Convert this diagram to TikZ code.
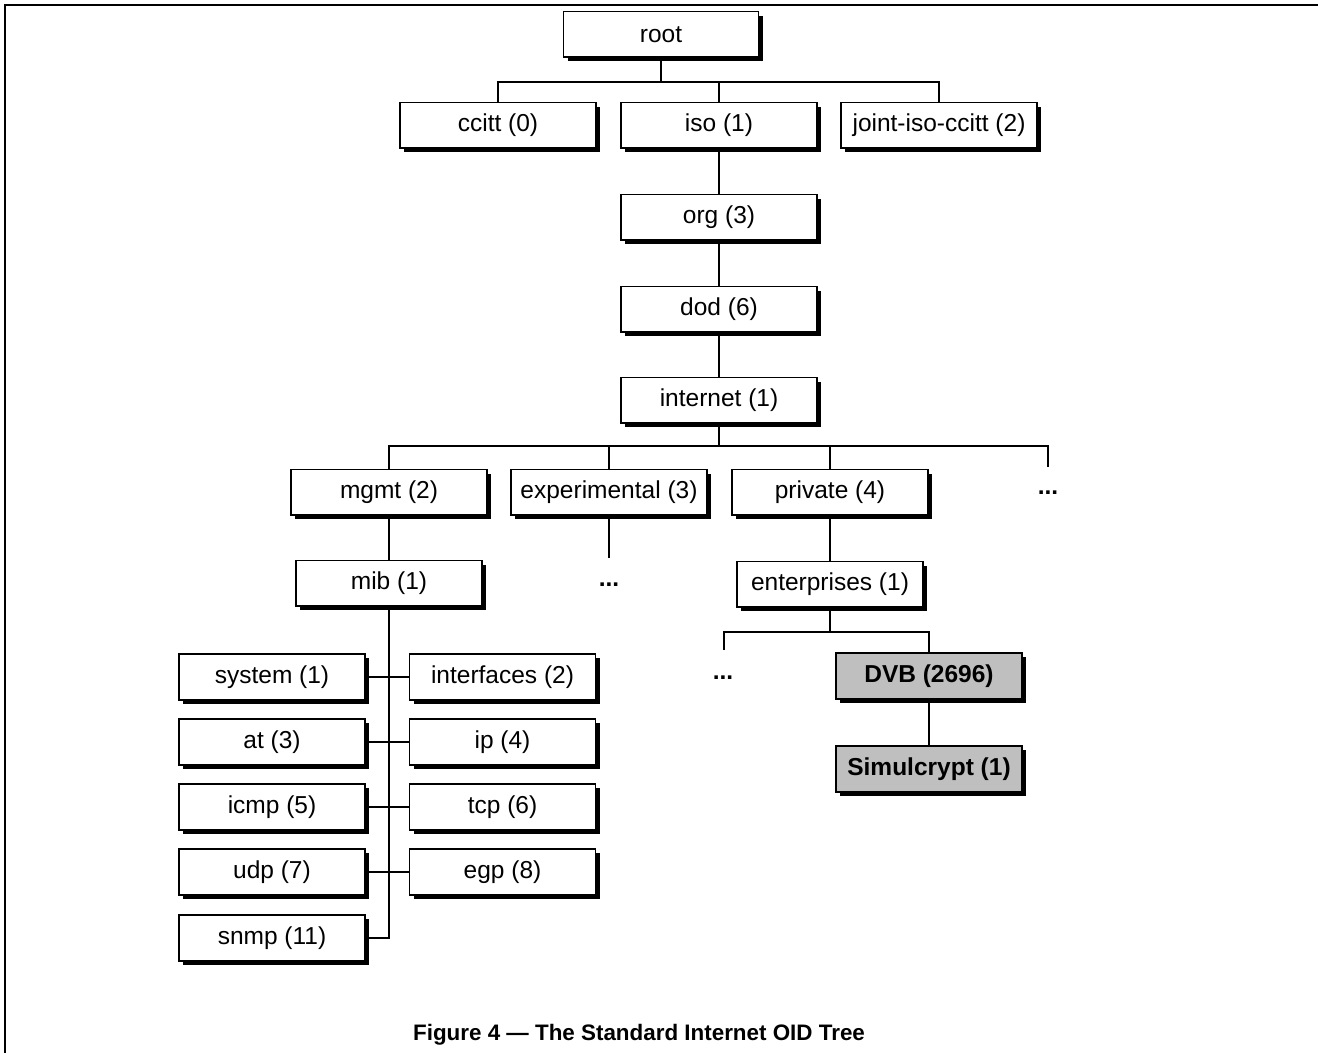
\documentclass[tikz,border=0pt]{standalone}
\usepackage{fontspec}
\setmainfont{Liberation Sans}
\usetikzlibrary{shadows}
\begin{document}
\begin{tikzpicture}[x=0.5pt,y=-0.5pt,
  box/.style={draw, line width=0.8pt, fill=white, inner sep=0pt,
    minimum width=98pt, minimum height=22.8pt,
    font=\fontsize{12.25}{14}\selectfont,
    drop shadow={shadow xshift=2pt, shadow yshift=-2pt, fill=black, opacity=1}},
  narrow/.style={minimum width=93pt},
  hilite/.style={fill=black!25, font=\fontsize{12.25}{14}\selectfont\bfseries},
  dots/.style={font=\fontsize{12.25}{14}\selectfont\bfseries, inner sep=0pt},
  link/.style={line width=0.7pt}]
\useasboundingbox (0,0) rectangle (1318,1053);

% page frame (top and left rules)
\draw[line width=1pt] (4,5) -- (1318,5);
\draw[line width=1pt] (5,5) -- (5,1053);

% top of the tree
\node[box, minimum width=97.5pt] (root) at (661,34.5) {root};
\node[box] (ccitt) at (498,125.5) {ccitt (0)};
\node[box] (iso) at (719,125.5) {iso (1)};
\node[box] (joint) at (939,125.5) {joint-iso-ccitt (2)};
\node[box] (org) at (719,217.5) {org (3)};
\node[box] (dod) at (719,309.5) {dod (6)};
\node[box] (internet) at (719,400.5) {internet (1)};

% children of internet
\node[box] (mgmt) at (389,492.5) {mgmt (2)};
\node[box] (exper) at (609,492.5) {experimental (3)};
\node[box] (private) at (830,492.5) {private (4)};
\node[dots] (moreint) at (1048,493) {...};

\node[box, narrow] (mib) at (389,583.5) {mib (1)};
\node[dots] (moreexp) at (609,585) {...};
\node[box, narrow] (enterp) at (830,584.5) {enterprises (1)};

% mib groups
\node[box, narrow] (system) at (272,677) {system (1)};
\node[box, narrow] (interf) at (502.5,677) {interfaces (2)};
\node[box, narrow] (at) at (272,742) {at (3)};
\node[box, narrow] (ip) at (502.5,742) {ip (4)};
\node[box, narrow] (icmp) at (272,807) {icmp (5)};
\node[box, narrow] (tcp) at (502.5,807) {tcp (6)};
\node[box, narrow] (udp) at (272,872) {udp (7)};
\node[box, narrow] (egp) at (502.5,872) {egp (8)};
\node[box, narrow] (snmp) at (272,938) {snmp (11)};

% enterprises
\node[dots] (moreent) at (723,678) {...};
\node[box, narrow, hilite] (dvb) at (929,676) {DVB (2696)};
\node[box, narrow, hilite] (simul) at (929,769) {Simulcrypt (1)};

% bus points
\coordinate (b1) at (661,82);
\coordinate (b2) at (719,446);
\coordinate (b3) at (830,632);
\coordinate (expend) at (609,558);
\coordinate (intend) at (1048,467);
\coordinate (entend) at (724,650);

% connectors
\draw[link] (root.south) -- (b1);
\draw[link] (ccitt.north) |- (b1) -| (joint.north);
\draw[link] (iso.north) -- (iso.north |- b1);
\draw[link] (iso) -- (org);
\draw[link] (org) -- (dod);
\draw[link] (dod) -- (internet);
\draw[link] (internet.south) -- (b2);
\draw[link] (mgmt.north) |- (b2) -| (intend);
\draw[link] (exper.north) -- (exper.north |- b2);
\draw[link] (private.north) -- (private.north |- b2);
\draw[link] (exper.south) -- (expend);
\draw[link] (mgmt) -- (mib);
\draw[link] (private) -- (enterp);
\draw[link] (mib.south) -- (mib.south |- snmp) -- (snmp.east);
\draw[link] (system.east) -- (interf.west);
\draw[link] (at.east) -- (ip.west);
\draw[link] (icmp.east) -- (tcp.west);
\draw[link] (udp.east) -- (egp.west);
\draw[link] (enterp.south) -- (b3);
\draw[link] (entend) |- (b3) -| (dvb.north);
\draw[link] (dvb) -- (simul);

% caption
\node[font=\fontsize{11.2}{13}\selectfont\bfseries] (caption) at (639,1035)
  {Figure 4 --- The Standard Internet OID Tree};
\end{tikzpicture}
\end{document}
